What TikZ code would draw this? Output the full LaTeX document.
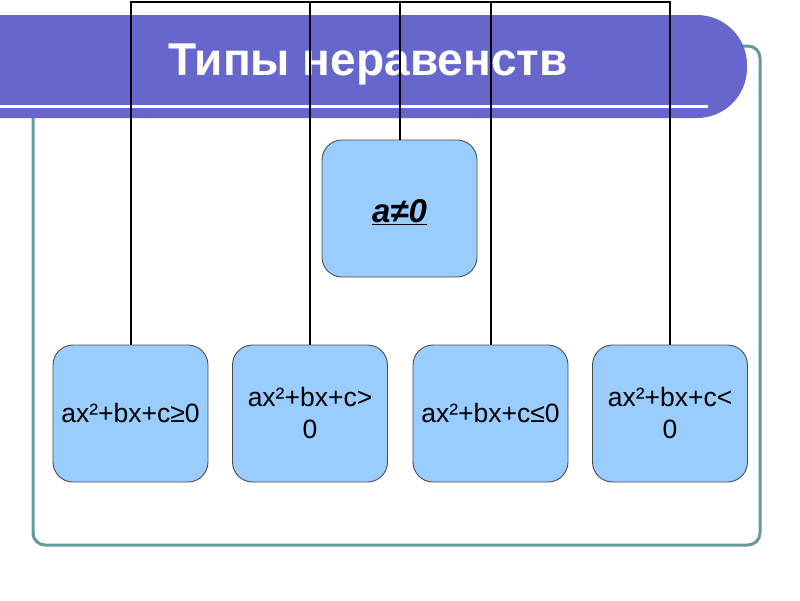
\documentclass[tikz,border=0pt]{standalone}
\usepackage{fontspec}
\setmainfont{Liberation Sans}
\begin{document}
\begin{tikzpicture}[x=1pt,y=-1pt,
  box/.style={draw=black!70, line width=0.9pt, fill=skyfill, rounded corners=20pt, minimum width=155pt, minimum height=137pt, inner sep=0pt, align=center, font=\fontsize{26.5}{32}\selectfont},
  conn/.style={draw=black, line width=2pt}
]
\definecolor{skyfill}{HTML}{99CCFF}
\definecolor{barcol}{HTML}{6666CC}
\definecolor{tealcol}{HTML}{669999}
\useasboundingbox (0,0) rectangle (800,600);
\fill[white] (0,0) rectangle (800,600);
% frame
\draw[tealcol, line width=3pt, rounded corners=12pt] (33,46) rectangle (760,545);
% title bar
\fill[barcol, rounded corners=50pt] (-60,15) rectangle (747,118);
\draw[white, line width=3pt] (0,106) -- (708,106);
\node[text=white, font=\fontsize{46}{52}\selectfont\bfseries] (title) at (368,64) {Типы неравенств};
% boxes
\node[box] (root) at (399.5,208.5) {};
\node[font=\fontsize{33}{38}\selectfont\bfseries\itshape] (rootlabel) at (399.5,212) {\underline{a≠0}};
\node[box] (b1) at (130.5,413.5) {ax²+bx+c≥0};
\node[box] (b2) at (310,413.5) {ax²+bx+c>\\0};
\node[box] (b3) at (490.5,413.5) {ax²+bx+c≤0};
\node[box] (b4) at (670,413.5) {ax²+bx+c<\\0};
\coordinate (top) at (400,2);
% connectors
\draw[conn] (b1.north) -- (b1.north |- top) -- (b4.north |- top) -- (b4.north);
\draw[conn] (b2.north) -- (b2.north |- top);
\draw[conn] (b3.north) -- (b3.north |- top);
\draw[conn] (root.north) -- (root.north |- top);
\end{tikzpicture}
\end{document}
